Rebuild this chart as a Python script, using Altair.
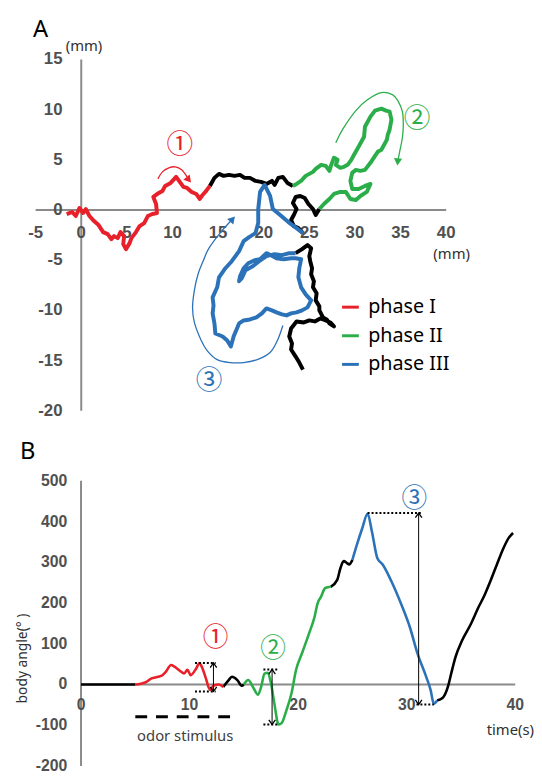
import altair as alt
import pandas as pd

# ---------------- Panel A : trajectory (mm) ----------------
red_x = [-1.6, -1.0, -0.6, -0.2, 0.2, 0.5, 0.9, 1.4, 1.9, 2.4, 2.9, 3.3, 3.6, 4.0, 4.3, 4.7, 4.6, 4.9, 5.3, 5.5,
         6.0, 6.4, 6.9, 7.3, 7.8, 8.3, 8.2, 7.9, 8.5, 8.9, 9.2, 9.8, 10.4, 10.8, 11.2, 11.6, 12.1, 12.6, 13.0,
         13.3, 13.7, 14.1]
red_y = [-0.4, -0.2, -0.6, 0.2, -0.3, 0.1, -0.6, -1.1, -1.5, -2.2, -2.4, -2.9, -2.6, -2.8, -2.2, -2.6, -3.4, -3.9,
         -3.3, -2.8, -2.2, -1.6, -1.3, -0.6, -0.4, -0.3, 0.6, 1.3, 1.7, 1.9, 2.4, 2.7, 3.3, 2.8, 2.3, 2.2, 1.8,
         1.6, 1.1, 1.5, 1.9, 2.4]

black1_x = [14.1, 14.6, 15.1, 15.6, 16.2, 16.8, 17.4, 17.9, 18.5, 19.1, 19.7, 20.3, 20.9, 21.2, 21.6, 22.1, 22.6, 23.2]
black1_y = [2.4, 3.2, 3.6, 3.4, 3.5, 3.4, 3.5, 3.2, 3.2, 2.9, 2.8, 2.6, 2.9, 2.5, 3.2, 3.3, 2.7, 2.4]

green_x = [23.2, 23.6, 24.1, 24.6, 25.0, 25.4, 25.7, 26.3, 26.8, 27.2, 27.4, 27.7, 28.1, 27.9, 28.4, 28.8, 29.2,
           29.6, 29.9, 30.4, 30.7, 31.0, 31.1, 31.4, 31.7, 32.2, 32.9, 33.4, 33.8, 34.0, 33.9, 33.8, 33.6, 33.5,
           33.2, 32.9, 32.5, 32.2, 31.7, 31.1, 30.6, 30.1, 29.7, 29.5, 29.7, 30.4, 31.1, 31.7, 31.3, 30.6, 30.1,
           29.5, 29.0, 28.4, 27.7, 27.2, 26.6, 26.1]
green_y = [2.4, 2.6, 2.9, 3.4, 3.6, 3.8, 4.1, 4.5, 4.4, 3.9, 4.5, 5.2, 5.0, 4.5, 4.2, 4.3, 4.5, 5.0, 5.5, 6.3,
           6.8, 7.3, 8.3, 8.8, 9.3, 9.9, 10.1, 9.9, 9.8, 9.0, 8.5, 8.0, 7.5, 7.0, 6.5, 6.0, 5.8, 5.4, 4.7, 4.0,
           3.9, 4.0, 3.7, 2.9, 2.1, 2.1, 2.4, 2.6, 1.8, 1.4, 1.0, 1.1, 1.8, 1.8, 1.6, 1.1, 0.6, 0.1]

black2_x = [26.1, 25.7, 25.4, 24.9, 24.5, 24.0, 23.5, 23.2, 23.6, 23.3, 23.0, 23.3, 23.8, 24.3]
black2_y = [0.1, -0.5, 0.1, 0.6, 1.2, 1.4, 1.3, 0.7, 0.1, -0.5, -1.0, -1.6, -1.8, -2.3]

blue_x = [24.3, 23.6, 22.7, 21.8, 21.0, 20.7, 20.1, 19.6, 19.4, 19.4, 19.1, 18.4, 17.8, 17.3, 16.5, 15.8, 15.1,
          14.9, 14.4, 14.5, 14.4, 14.6, 14.7, 15.5, 16.0, 16.4, 16.7, 17.3, 17.8, 18.5, 19.2, 19.8, 20.3, 20.9,
          21.4, 22.0, 22.5, 23.0, 23.6, 24.2, 24.8, 25.2, 24.6, 24.1, 23.8, 23.9, 24.1, 23.5, 23.0, 22.2, 21.4,
          20.8, 20.3, 19.6, 19.0, 18.3, 17.8, 17.4, 17.3, 17.6, 18.0, 18.8, 19.5, 20.3, 21.2, 22.0, 22.8, 23.5]
blue_y = [-2.3, -1.8, -1.2, -0.5, 0.1, 1.4, 2.5, 1.8, 0.1, -1.3, -2.3, -2.7, -3.1, -4.1, -5.1, -5.8, -6.7, -7.7,
          -8.7, -9.5, -10.3, -11.3, -12.3, -12.6, -13.0, -13.6, -12.6, -11.3, -11.0, -10.9, -10.7, -10.3, -9.8,
          -10.0, -10.2, -10.4, -10.5, -10.3, -10.2, -10.0, -9.7, -9.0, -8.4, -7.7, -6.7, -5.8, -4.9, -4.8, -4.8,
          -4.9, -4.8, -4.5, -4.3, -4.9, -5.0, -5.3, -5.8, -6.6, -7.1, -6.8, -6.0, -5.6, -5.1, -4.6, -4.4, -4.5,
          -4.3, -4.3]

black3_x = [23.5, 24.2, 24.8, 25.2, 25.0, 25.1, 25.3, 25.2, 25.5, 25.4, 25.8, 25.7, 26.1, 26.1, 26.5, 26.9,
            27.2, 27.7, 27.3, 26.8, 26.2, 25.6, 25.0, 24.4, 23.6, 23.0, 22.8, 23.1, 23.0, 23.5, 23.9, 24.3]
black3_y = [-4.3, -3.9, -3.5, -3.8, -4.6, -5.1, -5.8, -6.4, -7.1, -7.7, -8.3, -9.0, -9.6, -10.0, -10.7, -10.9,
            -11.3, -11.6, -11.2, -11.0, -10.8, -11.1, -11.0, -11.2, -11.1, -11.8, -12.6, -13.3, -13.9, -14.6,
            -15.2, -15.9]

# guide arcs (hand-drawn arrows) in panel A
arc1_x = [8.4, 8.9, 9.6, 10.3, 11.0, 11.6]
arc1_y = [3.1, 3.8, 4.2, 4.3, 4.0, 3.3]
arc2_x = [27.9, 28.7, 30.1, 31.4, 32.9, 34.1, 34.7, 35.2, 35.3, 35.2, 34.9, 34.7]
arc2_y = [6.7, 8.1, 9.9, 11.0, 11.7, 11.5, 10.9, 9.8, 8.5, 7.2, 5.8, 4.9]
arc3_x = [22.1, 21.5, 20.7, 19.3, 17.8, 16.3, 14.9, 13.8, 13.1, 12.4, 12.2, 12.4, 12.8, 13.4, 14.0, 15.3, 16.5]
arc3_y = [-11.5, -13.0, -14.2, -14.9, -15.2, -15.2, -14.9, -14.0, -12.9, -11.2, -9.7, -8.0, -6.4, -5.0, -3.8,
          -2.2, -1.0]
head_x = [11.7, 34.7, 16.5]
head_y = [3.1, 4.9, -1.0]
head_angle = [141, 185, 42]

marks_A_x = [10.8, 36.8, 14.0]
marks_A_y = [6.5, 9.1, -17.0]

xticks_A = [-5, 0, 5, 10, 15, 20, 25, 30, 35, 40]
yticks_A = [-20, -15, -10, -5, 0, 5, 10, 15]

PHASES = ["phase I", "phase II", "phase III"]
COLORS = ["#E8202A", "#2BAE4A", "#2C72B8"]
MARKS = ["①", "②", "③"]

# ---------------- Panel B : body angle vs time ----------------
b0_t = [0, 5.0]
b0_a = [0, 0]
rB_t = [5.0, 5.5, 5.9, 6.5, 7.1, 7.5, 7.8, 8.3, 8.6, 9.1, 9.5, 9.8, 10.1, 10.6, 10.9, 11.2, 11.5, 11.9, 12.2,
        12.7, 13.1]
rB_a = [0, 2, 5, 15, 19, 23, 31, 48, 44, 34, 27, 36, 23, 39, 52, 39, 15, -13, -3, 0, -6]
b1_t = [13.1, 13.6, 13.9, 14.4, 14.8, 15.0]
b1_a = [-6, 11, 19, 11, -3, 0]
gB_t = [15.0, 15.4, 15.9, 16.3, 16.6, 16.9, 17.2, 17.5, 17.8, 18.2, 18.5, 18.9, 19.4, 19.8, 20.4, 21.0, 21.5,
        21.8, 22.1, 22.5, 23.0]
gB_a = [0, 11, -9, -25, -5, 27, 29, 3, -45, -98, -94, -65, -20, 35, 80, 125, 165, 200, 215, 237, 240]
b2_t = [23.0, 23.6, 23.9, 24.2, 24.5, 24.7, 25.0]
b2_a = [240, 257, 286, 303, 298, 295, 306]
uB_t = [25.0, 25.4, 25.9, 26.4, 26.8, 27.3, 27.8, 28.6, 29.5, 30.3, 31.0, 31.8, 32.2, 32.5, 32.8]
uB_a = [306, 342, 383, 419, 375, 310, 294, 253, 197, 140, 76, 19, -13, -47, -39]
b3_t = [32.8, 33.3, 33.8, 34.1, 34.5, 35.1, 35.9, 36.6, 37.2, 37.7, 38.3, 38.9, 39.4, 39.8]
b3_a = [-39, -33, -5, 27, 68, 108, 148, 189, 221, 253, 294, 334, 360, 372]

dot_t1 = [10.5, 10.5, 16.8, 16.8, 26.4, 30.9]
dot_t2 = [12.4, 12.4, 18.2, 18.2, 31.3, 32.5]
dot_a = [53, -17, 37, -98, 421, -49]
arr_t = [12.2, 17.6, 31.1]
arr_lo = [-17, -98, -49]
arr_hi = [53, 37, 421]
marks_B_t = [12.4, 17.7, 30.7]
marks_B_a = [114, 88, 455]
odor_t = [5.0, 14.2]
odor_a = -79

xticks_B = [0, 10, 20, 30, 40]
yticks_B = [-200, -100, 0, 100, 200, 300, 400, 500]

# ---------------- scales ----------------
SAX = alt.Scale(domain=[-5, 40], range=[28, 444], nice=False, zero=False)
SAY = alt.Scale(domain=[-20, 15], range=[403, 47], nice=False, zero=False)
SBX = alt.Scale(domain=[0, 40], range=[74, 514], nice=False, zero=False)
SBY = alt.Scale(domain=[-200, 500], range=[763, 474], nice=False, zero=False)


def XA(f):
    return alt.X(f, type="quantitative", scale=SAX, axis=None)


def YA(f):
    return alt.Y(f, type="quantitative", scale=SAY, axis=None)


def XB(f):
    return alt.X(f, type="quantitative", scale=SBX, axis=None)


def YB(f):
    return alt.Y(f, type="quantitative", scale=SBY, axis=None)


def seg(name, xs, ys, phase=None):
    d = pd.DataFrame({"x": xs, "y": ys, "i": list(range(len(xs)))})
    d["seg"] = name
    if phase is not None:
        d["phase"] = phase
    return d


AXC = "#8A8A8A"
TXC = "#505050"
TICKFONT = "Liberation Sans"

layers = []

# ----- panel A axes -----
axA = pd.DataFrame({"x": [-5, 0], "x2": [40, 0], "y": [0, -20], "y2": [0, 15]})
layers.append(alt.Chart(axA).mark_rule(color=AXC, strokeWidth=2).encode(
    x=XA("x"), x2="x2:Q", y=YA("y"), y2="y2:Q"))
layers.append(alt.Chart(pd.DataFrame({"x": xticks_A, "y": [0] * len(xticks_A),
                                      "t": [str(v) for v in xticks_A]}))
              .mark_text(dy=23, fontSize=17, fontWeight="bold", color=TXC, font=TICKFONT)
              .encode(x=XA("x"), y=YA("y"), text="t:N"))
layers.append(alt.Chart(pd.DataFrame({"x": [0] * len(yticks_A), "y": yticks_A,
                                      "t": [str(v) for v in yticks_A]}))
              .mark_text(dx=-19, align="right", fontSize=17, fontWeight="bold", color=TXC, font=TICKFONT)
              .encode(x=XA("x"), y=YA("y"), text="t:N"))

# ----- panel A trajectory -----
blackA = pd.concat([seg("k1", black1_x, black1_y), seg("k2", black2_x, black2_y),
                    seg("k3", black3_x, black3_y)])
colA = pd.concat([seg("r", red_x, red_y, PHASES[0]), seg("g", green_x, green_y, PHASES[1]),
                  seg("b", blue_x, blue_y, PHASES[2])])
layers.append(alt.Chart(blackA).mark_line(color="black", strokeWidth=4, strokeJoin="round").encode(
    x=XA("x"), y=YA("y"), detail="seg:N", order="i:Q"))
layers.append(alt.Chart(colA).mark_line(strokeWidth=4, strokeJoin="round").encode(
    x=XA("x"), y=YA("y"), order="i:Q",
    color=alt.Color("phase:N", scale=alt.Scale(domain=PHASES, range=COLORS),
                    legend=alt.Legend(orient="none", legendX=337, legendY=288, title=None,
                                      symbolType="stroke", symbolSize=289, symbolStrokeWidth=3,
                                      labelFontSize=20, labelFont="Noto Sans", labelColor="black",
                                      rowPadding=9, labelOffset=8, padding=0))))

# ----- panel A arcs and heads -----
arcs = pd.concat([seg("a1", arc1_x, arc1_y, PHASES[0]), seg("a2", arc2_x, arc2_y, PHASES[1]),
                  seg("a3", arc3_x, arc3_y, PHASES[2])])
layers.append(alt.Chart(arcs).mark_line(strokeWidth=1.3, interpolate="cardinal").encode(
    x=XA("x"), y=YA("y"), order="i:Q", detail="seg:N",
    color=alt.Color("phase:N", scale=alt.Scale(domain=PHASES, range=COLORS), legend=None)))
layers.append(alt.Chart(pd.DataFrame({"x": head_x, "y": head_y, "ang": head_angle, "phase": PHASES}))
              .mark_point(shape="triangle", filled=True, size=70, opacity=1).encode(
    x=XA("x"), y=YA("y"), angle=alt.Angle("ang:Q", scale=None),
    color=alt.Color("phase:N", scale=alt.Scale(domain=PHASES, range=COLORS), legend=None)))
layers.append(alt.Chart(pd.DataFrame({"x": marks_A_x, "y": marks_A_y, "m": MARKS, "phase": PHASES}))
              .mark_text(fontSize=27, font="Noto Sans CJK JP", baseline="middle").encode(
    x=XA("x"), y=YA("y"), text="m:N",
    color=alt.Color("phase:N", scale=alt.Scale(domain=PHASES, range=COLORS), legend=None)))

# unit labels / panel letters
layers.append(alt.Chart(pd.DataFrame({"x": [0.3, 40.6], "y": [16.3, -4.4], "t": ["(mm)", "(mm)"]}))
              .mark_text(fontSize=15, color="#303030", font="Noto Sans", baseline="middle").encode(
    x=XA("x"), y=YA("y"), text="t:N"))
layers.append(alt.Chart(pd.DataFrame({"t": ["A"]})).mark_text(fontSize=24, font="Noto Sans", color="black")
              .encode(x=alt.value(33), y=alt.value(17), text="t:N"))
layers.append(alt.Chart(pd.DataFrame({"t": ["B"]})).mark_text(fontSize=24, font="Noto Sans", color="black")
              .encode(x=alt.value(20), y=alt.value(445), text="t:N"))

# ----- panel B axes -----
axB = pd.DataFrame({"x": [0, 0], "x2": [40, 0], "y": [0, -200], "y2": [0, 500]})
layers.append(alt.Chart(axB).mark_rule(color=AXC, strokeWidth=2).encode(
    x=XB("x"), x2="x2:Q", y=YB("y"), y2="y2:Q"))
layers.append(alt.Chart(pd.DataFrame({"x": xticks_B, "y": [0] * len(xticks_B),
                                      "t": [str(v) for v in xticks_B]}))
              .mark_text(dy=21, fontSize=16, fontWeight="bold", color=TXC, font=TICKFONT)
              .encode(x=XB("x"), y=YB("y"), text="t:N"))
layers.append(alt.Chart(pd.DataFrame({"x": [0] * len(yticks_B), "y": yticks_B,
                                      "t": [str(v) for v in yticks_B]}))
              .mark_text(dx=-14, align="right", fontSize=16, fontWeight="bold", color=TXC, font=TICKFONT)
              .encode(x=XB("x"), y=YB("y"), text="t:N"))

# ----- panel B curve -----
blackB = pd.concat([seg("k0", b0_t, b0_a), seg("k1", b1_t, b1_a), seg("k2", b2_t, b2_a), seg("k3", b3_t, b3_a)])
colB = pd.concat([seg("r", rB_t, rB_a, PHASES[0]), seg("g", gB_t, gB_a, PHASES[1]),
                  seg("b", uB_t, uB_a, PHASES[2])])
layers.append(alt.Chart(blackB).mark_line(color="black", strokeWidth=2.6, interpolate="monotone").encode(
    x=XB("x"), y=YB("y"), detail="seg:N", order="i:Q"))
layers.append(alt.Chart(colB).mark_line(strokeWidth=2.6, interpolate="monotone").encode(
    x=XB("x"), y=YB("y"), order="i:Q",
    color=alt.Color("phase:N", scale=alt.Scale(domain=PHASES, range=COLORS), legend=None)))

# ----- panel B annotations -----
layers.append(alt.Chart(pd.DataFrame({"t1": dot_t1, "t2": dot_t2, "a": dot_a}))
              .mark_rule(color="black", strokeWidth=2, strokeDash=[2, 2]).encode(
    x=XB("t1"), x2="t2:Q", y=YB("a")))
arrdf = pd.DataFrame({"t": arr_t, "lo": arr_lo, "hi": arr_hi})
layers.append(alt.Chart(arrdf).mark_rule(color="black", strokeWidth=1).encode(
    x=XB("t"), y=YB("lo"), y2="hi:Q"))
layers.append(alt.Chart(arrdf).mark_point(shape="M -0.7 1 L 0 0 L 0.7 1", filled=False, color="black",
                                          strokeWidth=1.3, size=90, opacity=1).encode(x=XB("t"), y=YB("hi")))
layers.append(alt.Chart(arrdf).mark_point(shape="M -0.7 -1 L 0 0 L 0.7 -1", filled=False, color="black",
                                          strokeWidth=1.3, size=90, opacity=1).encode(x=XB("t"), y=YB("lo")))
layers.append(alt.Chart(pd.DataFrame({"x": marks_B_t, "y": marks_B_a, "m": MARKS, "phase": PHASES}))
              .mark_text(fontSize=26, font="Noto Sans CJK JP", baseline="middle").encode(
    x=XB("x"), y=YB("y"), text="m:N",
    color=alt.Color("phase:N", scale=alt.Scale(domain=PHASES, range=COLORS), legend=None)))
layers.append(alt.Chart(pd.DataFrame({"t1": [odor_t[0]], "t2": [odor_t[1]], "a": [odor_a]}))
              .mark_rule(color="black", strokeWidth=3, strokeDash=[12, 9]).encode(
    x=XB("t1"), x2="t2:Q", y=YB("a")))
layers.append(alt.Chart(pd.DataFrame({"x": [(odor_t[0] + odor_t[1]) / 2], "y": [odor_a], "t": ["odor stimulus"]}))
              .mark_text(dy=20, fontSize=15, color="#404040", font="Noto Sans").encode(
    x=XB("x"), y=YB("y"), text="t:N"))
layers.append(alt.Chart(pd.DataFrame({"x": [40], "y": [0], "t": ["time(s)"]}))
              .mark_text(dy=46, dx=-5, fontSize=15, color="#303030", font="Noto Sans").encode(
    x=XB("x"), y=YB("y"), text="t:N"))
layers.append(alt.Chart(pd.DataFrame({"t": ["body angle(°  )"]}))
              .mark_text(angle=270, fontSize=14, color="#303030", font="Noto Sans", baseline="middle")
              .encode(x=alt.value(15), y=alt.value(654), text="t:N"))

chart = alt.layer(*layers).resolve_scale(x="independent", y="independent", color="independent").properties(
    width=526, height=763, padding=0).configure_view(stroke=None)

chart.save("out.html", embed_options={"renderer": "svg", "actions": False})
